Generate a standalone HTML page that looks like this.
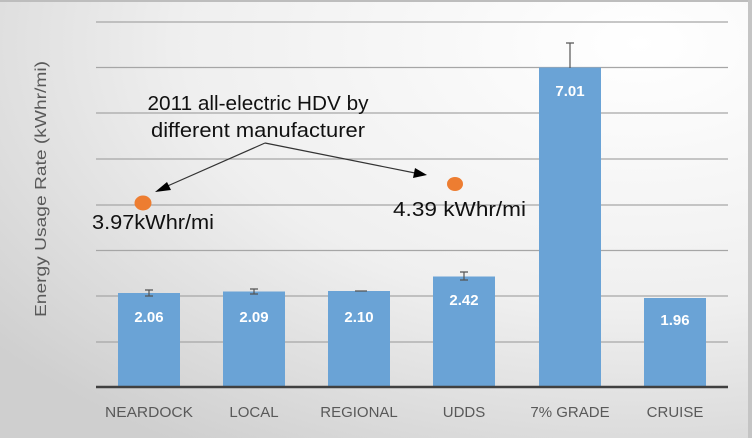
<!DOCTYPE html>
<html><head><style>
body{margin:0;}
svg{display:block;}
</style></head><body>
<svg width="752" height="438" viewBox="0 0 752 438" xmlns="http://www.w3.org/2000/svg">
<defs>
<radialGradient id="bg" cx="0.85" cy="0.1" r="1.1">
<stop offset="0" stop-color="#ffffff"/>
<stop offset="0.55" stop-color="#efefef"/>
<stop offset="1" stop-color="#cfcfcf"/>
</radialGradient>
</defs>
<rect width="752" height="438" fill="url(#bg)"/>
<rect x="0" y="0" width="752" height="2" fill="#bdbdbd"/>
<rect x="748" y="0" width="4" height="438" fill="#c4c4c4"/>
<g stroke="#a6a6a6" stroke-width="1.3">
<line x1="96" y1="22" x2="728" y2="22"/>
<line x1="96" y1="67.5" x2="728" y2="67.5"/>
<line x1="96" y1="113" x2="728" y2="113"/>
<line x1="96" y1="159" x2="728" y2="159"/>
<line x1="96" y1="205" x2="728" y2="205"/>
<line x1="96" y1="250.5" x2="728" y2="250.5"/>
<line x1="96" y1="296" x2="728" y2="296"/>
<line x1="96" y1="342" x2="728" y2="342"/>
</g>
<g fill="#6aa3d6">
<rect x="118" y="293" width="62" height="94"/>
<rect x="223" y="291.5" width="62" height="95.5"/>
<rect x="328" y="291" width="62" height="96"/>
<rect x="433" y="276.5" width="62" height="110.5"/>
<rect x="539" y="67.5" width="62" height="319.5"/>
<rect x="644" y="298" width="62" height="89"/>
</g>
<line x1="96" y1="387" x2="728" y2="387" stroke="#404040" stroke-width="2.5"/>
<g stroke="#555" stroke-width="1.2">
<path d="M149 290v6M145 290h8M145 296h8"/>
<path d="M254 289v5M250 289h8M250 294h8"/>
<path d="M359 291h8M355 291h8"/>
<path d="M464 272v8M460 272h8M460 280h8"/>
<path d="M570 43v25M566 43h8"/>
</g>
<g font-family="Liberation Sans, sans-serif" font-weight="bold" font-size="15" fill="#fff" text-anchor="middle">
<text x="149" y="322">2.06</text>
<text x="254" y="322">2.09</text>
<text x="359" y="322">2.10</text>
<text x="464" y="305">2.42</text>
<text x="570" y="96">7.01</text>
<text x="675" y="325">1.96</text>
</g>
<g font-family="Liberation Sans, sans-serif" font-size="15" fill="#595959" text-anchor="middle">
<text x="149" y="417" textLength="88" lengthAdjust="spacingAndGlyphs">NEARDOCK</text>
<text x="254" y="417">LOCAL</text>
<text x="359" y="417">REGIONAL</text>
<text x="464" y="417">UDDS</text>
<text x="570" y="417">7% GRADE</text>
<text x="675" y="417">CRUISE</text>
</g>
<text transform="translate(46,189) rotate(-90)" font-family="Liberation Sans, sans-serif" font-size="15.5" fill="#595959" text-anchor="middle" textLength="256" lengthAdjust="spacingAndGlyphs">Energy Usage Rate (kWhr/mi)</text>
<g font-family="Liberation Sans, sans-serif" font-size="20" fill="#111" text-anchor="middle">
<text x="258" y="110" textLength="221" lengthAdjust="spacingAndGlyphs">2011 all-electric HDV by</text>
<text x="258" y="137" textLength="214" lengthAdjust="spacingAndGlyphs">different manufacturer</text>
</g>
<g stroke="#333" stroke-width="1.2" fill="none">
<path d="M265 143L163 188"/>
<path d="M265 143L420 174"/>
</g>
<path d="M155 192L167 182L171 190Z" fill="#000"/>
<path d="M427 175L415 168L413 178Z" fill="#000"/>
<ellipse cx="143" cy="203" rx="8.5" ry="7.5" fill="#ed7d31"/>
<ellipse cx="455" cy="184" rx="8" ry="7" fill="#ed7d31"/>
<g font-family="Liberation Sans, sans-serif" font-size="20" fill="#111">
<text x="92" y="229" textLength="122" lengthAdjust="spacingAndGlyphs">3.97kWhr/mi</text>
<text x="393" y="216" textLength="133" lengthAdjust="spacingAndGlyphs">4.39 kWhr/mi</text>
</g>
</svg>
</body></html>
